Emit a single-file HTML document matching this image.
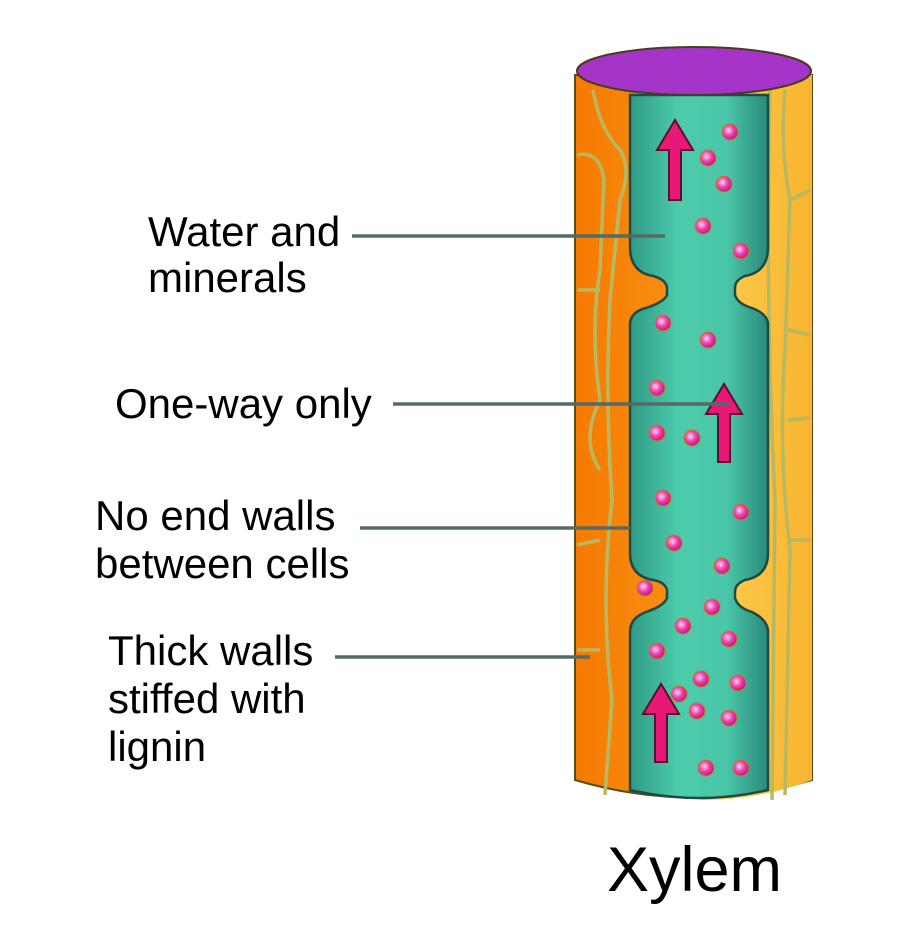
<!DOCTYPE html>
<html><head><meta charset="utf-8"><style>
html,body{margin:0;padding:0;background:#fff;}
svg{display:block;}
text{font-family:"Liberation Sans",Arial,sans-serif;fill:#000;}
</style></head><body>
<svg width="900" height="933" viewBox="0 0 900 933" xmlns="http://www.w3.org/2000/svg">
<defs>
<linearGradient id="gl" x1="0" x2="1"><stop offset="0" stop-color="#f57a00"/><stop offset="1" stop-color="#ffab30"/></linearGradient>
<linearGradient id="gr" x1="0" x2="1"><stop offset="0" stop-color="#ffd050"/><stop offset="1" stop-color="#f7b430"/></linearGradient>
<linearGradient id="gt" x1="0" x2="1"><stop offset="0" stop-color="#2f9a86"/><stop offset="0.35" stop-color="#4ccbaa"/><stop offset="0.7" stop-color="#4ac6a8"/><stop offset="1" stop-color="#2a8a7a"/></linearGradient>
<radialGradient id="gd" cx="0.4" cy="0.4" r="0.6"><stop offset="0" stop-color="#ffd8f0"/><stop offset="0.5" stop-color="#f048b0"/><stop offset="1" stop-color="#c01880"/></radialGradient>
</defs>
<path d="M575 75 L575 780 Q693 815 812 780 L812 75 Z" fill="url(#gl)" stroke="#5a4a20" stroke-width="2"/>
<path d="M700 75 L812 75 L812 780 Q760 800 700 800 Z" fill="url(#gr)"/>
<g fill="none" stroke="#b8b860" stroke-width="3.5">
<path d="M593 90 Q600 130 620 150 Q632 170 620 200 L610 300 Q605 400 612 500 Q600 600 612 700 L605 795"/>
<path d="M577 155 Q600 150 604 180 L600 270 M577 290 L600 290 M600 270 Q590 330 600 400 Q580 440 600 470 M577 545 L600 540 M577 650 L600 650"/>
<path d="M785 90 Q780 150 790 200 L785 350 Q778 450 790 550 L785 795 M770 90 Q765 300 775 500 L772 800 M790 200 L810 190 M788 330 L810 335 M788 420 L810 418 M790 540 L810 540"/>
</g>
<path d="M630 95 L768 95 L768 247 Q768 272 745 276 Q735 280 735 288 L735 295 Q738 304 752 308 Q768 314 768 325 L768 553 Q768 576 745 580 Q735 584 735 592 L735 598 Q738 608 752 612 Q768 620 768 632 L768 790 Q700 806 630 790 L630 632 Q630 618 646 612 Q664 606 667 598 L667 590 Q665 582 653 580 Q630 576 630 553 L630 325 Q630 312 646 308 Q664 302 667 295 L667 287 Q665 279 653 276 Q630 272 630 247 Z" fill="url(#gt)" stroke="#1e4a40" stroke-width="2.5"/>
<ellipse cx="694" cy="71" rx="117" ry="24" fill="#a535c8" stroke="#4a3a20" stroke-width="2"/>
<g fill="#e81878" stroke="#5a1028" stroke-width="2">
<path d="M669 200 L681 200 L681 150 L693 150 L675 120 L657 150 L669 150 Z"/>
<path d="M718 462 L730 462 L730 414 L742 414 L724 384 L706 414 L718 414 Z"/>
<path d="M655 762 L667 762 L667 714 L679 714 L661 684 L643 714 L655 714 Z"/>
</g>
<g fill="url(#gd)" stroke="#c08020" stroke-width="1">
<circle cx="730" cy="132" r="8"/><circle cx="708" cy="158" r="8"/><circle cx="724" cy="184" r="8"/>
<circle cx="703" cy="226" r="8"/><circle cx="741" cy="251" r="8"/><circle cx="663" cy="323" r="8"/>
<circle cx="708" cy="340" r="8"/><circle cx="657" cy="388" r="8"/><circle cx="657" cy="433" r="8"/>
<circle cx="692" cy="438" r="8"/><circle cx="663" cy="498" r="8"/><circle cx="741" cy="512" r="8"/>
<circle cx="674" cy="543" r="8"/><circle cx="722" cy="566" r="8"/><circle cx="645" cy="588" r="8"/>
<circle cx="712" cy="607" r="8"/><circle cx="683" cy="626" r="8"/><circle cx="729" cy="639" r="8"/>
<circle cx="657" cy="651" r="8"/><circle cx="701" cy="679" r="8"/><circle cx="679" cy="694" r="8"/>
<circle cx="738" cy="683" r="8"/><circle cx="697" cy="711" r="8"/><circle cx="729" cy="718" r="8"/>
<circle cx="706" cy="768" r="8"/><circle cx="741" cy="768" r="8"/>
</g>
<g stroke="#556a66" stroke-width="3.5">
<line x1="352" y1="236" x2="665" y2="236"/>
<line x1="393" y1="404" x2="730" y2="404"/>
<line x1="360" y1="528" x2="630" y2="528"/>
<line x1="335" y1="657" x2="590" y2="657"/>
</g>
<g font-size="42">
<text x="148" y="246">Water and</text>
<text x="148" y="292">minerals</text>
<text x="115" y="418">One-way only</text>
<text x="95" y="530">No end walls</text>
<text x="95" y="578">between cells</text>
<text x="108" y="665">Thick walls</text>
<text x="108" y="713">stiffed with</text>
<text x="108" y="761">lignin</text>
</g>
<text x="607" y="891" font-size="63">Xylem</text>
</svg>
</body></html>
